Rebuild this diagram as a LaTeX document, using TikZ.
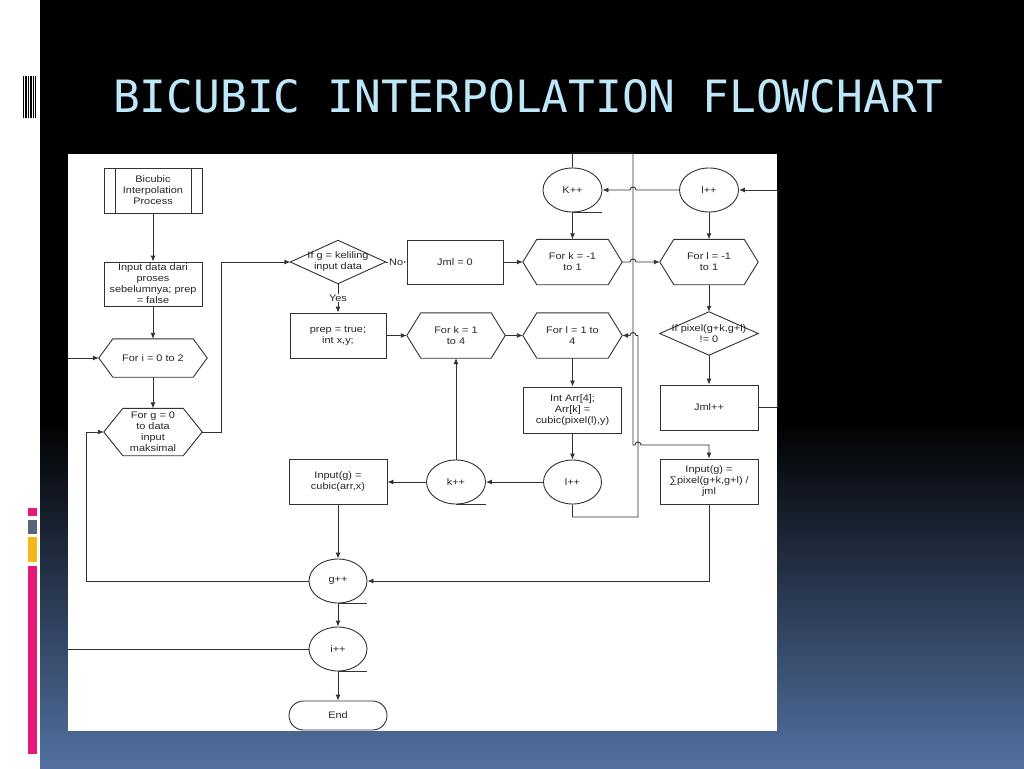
\documentclass[tikz,border=0pt]{standalone}
\usepackage{fontspec}
\newfontfamily\diagfont[FakeStretch=1.15]{Liberation Sans}
\newfontfamily\titlefont{DejaVu Sans Mono}
\usetikzlibrary{shapes.geometric, arrows.meta}
\definecolor{titleblue}{RGB}{191,231,250}
\definecolor{slideblue}{RGB}{82,112,160}
\definecolor{barpink}{RGB}{230,25,120}
\definecolor{bargray}{RGB}{90,100,120}
\definecolor{baryellow}{RGB}{245,184,22}
\definecolor{linec}{RGB}{50,50,50}

\begin{document}
\begin{tikzpicture}[x=1pt, y=-1pt,
line/.style={draw=linec, line width=0.9pt},
>={Latex[length=6pt,width=5pt]},
every node/.style={font=\diagfont\fontsize{9.5}{11}\selectfont, text=black!85, align=center, inner sep=0},
box/.style={line, minimum width=98, minimum height=45},
proc/.style={box, path picture={
\draw[line]
([xshift=11]path picture bounding box.north west) -- ([xshift=11]path picture bounding box.south west) ([xshift=-11]path picture bounding box.north east) -- ([xshift=-11]path picture bounding box.south east);
}},
hexa/.style={minimum width=98, minimum height=45, append after command={\pgfextra{
\draw[line] (\tikzlastnode.west) -- ([xshift=#1]\tikzlastnode.north west) -- ([xshift=-#1]\tikzlastnode.north east) -- (\tikzlastnode.east) -- ([xshift=-#1]\tikzlastnode.south east) -- ([xshift=#1]\tikzlastnode.south west) -- cycle;
}}},
hexa/.default=14,
dia/.style={append after command={\pgfextra{
\draw[line] (\tikzlastnode.west) -- (\tikzlastnode.north) -- (\tikzlastnode.east) -- (\tikzlastnode.south) -- cycle;
}}},
circ/.style={line, ellipse, minimum width=59, minimum height=44},
tail/.style={append after command={\pgfextra{
\draw[line] (\tikzlastnode.south) -- (\tikzlastnode.south -| \tikzlastnode.east);
}}}]
\useasboundingbox (0,0) rectangle (1024,768);
\fill[white] (0,0) rectangle (40,768);
\fill[black] (40,0) rectangle (1024,768);
\shade[top color=black, bottom color=slideblue] (40,420) rectangle (1024,768);
\foreach \x in {23,25.4,27.8,30.2,32.6,35} \fill[black] (\x,76) rectangle ++(1.4,42);
\fill[barpink] (28,508) rectangle (37,516);
\fill[bargray] (28,520) rectangle (37,534);
\fill[baryellow] (28,537) rectangle (37,562);
\fill[barpink] (28,566) rectangle (37,754);
\fill[white] (68,154) rectangle (777,731);
\node[anchor=base west, font=\titlefont\fontsize{44.5}{50}\selectfont, text=titleblue] (title) at (113,112) {BICUBIC INTERPOLATION FLOWCHART};

\node[proc] (bicubic) at (153,190.5) {Bicubic\\Interpolation\\Process};
\node[box, minimum height=44] (input) at (153,284) {Input data dari\\proses\\sebelumnya; prep\\= false};
\node[hexa, minimum width=108, minimum height=38] (fori) at (153,358) {For i = 0 to 2};
\node[hexa=19, minimum height=47] (forg) at (153,432) {For g = 0\\to data\\input\\maksimal};
\node[dia, minimum width=95, minimum height=43] (ifg) at (338,262) {If g = keliling\\input data};
\node[box, minimum width=96, minimum height=44] (jml0) at (455,262) {Jml = 0};
\node[hexa, minimum width=99] (fork1) at (572.5,262) {For k = -1\\to 1};
\node[circ, tail] (kpp) at (572.5,190) {K++};
\node[circ] (lpp) at (709,190) {l++};
\node[hexa] (forl1) at (709,262) {For l = -1\\to 1};
\node[dia, minimum width=98, minimum height=43] (ifpix) at (709,333.5) {If pixel(g+k,g+l)\\!= 0};
\node[box] (jmlpp) at (709,407.5) {Jml++};
\node[box] (sum) at (709,481.5) {Input(g) =\\∑pixel(g+k,g+l) /\\jml};
\node[box, minimum width=96] (prep) at (338,335.5) {prep = true;\\int x,y;};
\node[hexa] (fork4) at (456,335.5) {For k = 1\\to 4};
\node[hexa, minimum width=99] (forl4) at (572.5,335.5) {For l = 1 to\\4};
\node[box, minimum height=46] (arr) at (572.5,410) {Int Arr[4];\\Arr[k] =\\cubic(pixel(l),y)};
\node[circ, minimum width=58] (lpp2) at (572.5,482) {l++};
\node[circ, tail] (kpp2) at (456,482) {k++};
\node[box] (cubic) at (338,482) {Input(g) =\\cubic(arr,x)};
\node[circ, tail, minimum width=58] (gpp) at (338,581) {g++};
\node[circ, tail, minimum width=58] (ipp) at (338,649) {i++};
\node[box, rounded corners=14.5, minimum height=29] (stop) at (338,715.5) {End};
\coordinate (leftin) at (68,358);
\coordinate (leftout) at (68,649);

\draw[line,->] (bicubic) -- (input);
\draw[line,->] (input) -- (fori);
\draw[line,->] (leftin) -- (fori.west);
\draw[line,->] (fori) -- (forg);
\draw[line,->] (forg.east) -- ++(19,0) |- (ifg.west);
\draw[line,->] (ifg.east) -- node[fill=white, inner sep=1]{No} (jml0.west);
\draw[line,->] (ifg.south) -- node[fill=white, inner sep=1]{Yes} (prep.north);
\draw[line,->] (jml0) -- (fork1);
\draw[line,->] (kpp) -- (fork1);
\draw[line,->] (fork1.east) -- (630,262) .. controls (630,258) and (636,258) .. (636,262) -- (forl1.west);
\draw[line,->] (lpp.west) -- (636,190) .. controls (636,186) and (630,186) .. (630,190) -- (kpp.east);
\draw[line,->] (jmlpp.east) -- ++(19,0) |- (lpp.east);
\draw[line,->] (lpp) -- (forl1);
\draw[line,->] (forl1) -- (ifpix);
\draw[line,->] (ifpix) -- (jmlpp);
\draw[line,->] (kpp.north) |- (633,153) -- (633,445) -- (635,445) .. controls (635,441) and (641,441) .. (641,445) -| (sum.north);
\draw[line,->] (prep) -- (fork4);
\draw[line,->] (fork4) -- (forl4);
\draw[line,->] (forl4) -- (arr);
\draw[line,->] (arr) -- (lpp2);
\draw[line,->] (lpp2.south) |- (638,517) -- (638,335.5) -- (636,335.5) .. controls (636,331.5) and (630,331.5) .. (630,335.5) -- (forl4.east);
\draw[line,->] (lpp2) -- (kpp2);
\draw[line,->] (kpp2) -- (fork4);
\draw[line,->] (kpp2) -- (cubic);
\draw[line,->] (cubic) -- (gpp);
\draw[line,->] (sum.south) |- (gpp.east);
\draw[line,->] (gpp.west) -- (86,581) |- (forg.west);
\draw[line,->] (gpp) -- (ipp);
\draw[line] (ipp.west) -- (leftout);
\draw[line,->] (ipp) -- (stop);
\end{tikzpicture}
\end{document}
